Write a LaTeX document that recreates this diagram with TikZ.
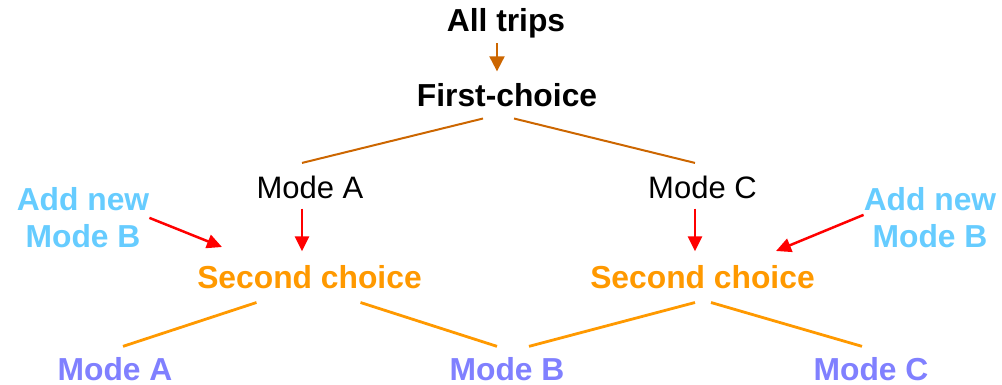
\documentclass[tikz,border=0pt]{standalone}
\usepackage{fontspec}
\setmainfont{Liberation Sans}
\usetikzlibrary{arrows.meta}
\definecolor{tripbrown}{HTML}{CC6600}
\definecolor{addblue}{HTML}{66CCFF}
\definecolor{choiceorange}{HTML}{FF9900}
\definecolor{modepurple}{HTML}{8080FF}
\begin{document}
\begin{tikzpicture}[x=1pt,y=-1pt,
	lbl/.style={inner sep=0,anchor=base,font=\fontsize{31}{37}\selectfont},
	bold/.style={lbl,font=\fontsize{31.8}{37}\selectfont\bfseries},
	redarrow/.style={draw=red,line width=2.5pt,-{Triangle[length=15pt,width=14pt]}},
	orangeline/.style={draw=choiceorange,line width=2.8pt},
	brownline/.style={draw=tripbrown,line width=2pt}]
	\useasboundingbox (0,0) rectangle (1002,385);
	% top of the tree
	\node[bold] (trips) at (506,32) {All trips};
	\node[bold] (first) at (507,107) {First-choice};
	\node[lbl] (modeA) at (310,199) {Mode A};
	\node[lbl] (modeC) at (702.5,199) {Mode C};
	\draw[brownline,-{Triangle[length=15pt,width=15pt]}] ([shift={(-9,4.5)}]trips.south) -- ([shift={(-10,-12.4)}]first.north);
	\draw[brownline] ([shift={(-24,11)}]first.south) -- ([shift={(-8,-13.4)}]modeA.north);
	\draw[brownline] ([shift={(7,11)}]first.south) -- ([shift={(-7.5,-13.4)}]modeC.north);
	% second choice
	\node[bold,text=choiceorange] (scL) at (309.5,288) {Second choice};
	\node[bold,text=choiceorange] (scR) at (702.5,288) {Second choice};
	\draw[redarrow] ([shift={(-8,9)}]modeA.south) -- ([shift={(-7.5,-13.4)}]scL.north);
	\draw[redarrow] ([shift={(-7.5,9)}]modeC.south) -- ([shift={(-7.5,-13.4)}]scR.north);
	% new mode B
	\node[bold,anchor=north,align=center,text=addblue] (addL) at (83,187.5) {Add new\\Mode B};
	\node[bold,anchor=north,align=center,text=addblue] (addR) at (930,187.5) {Add new\\Mode B};
	\coordinate (tipL) at (222,247);
	\coordinate (tipR) at (776,251);
	\draw[redarrow] (addL.east) -- (tipL);
	\draw[redarrow] ([yshift=3]addR.west) -- (tipR);
	% bottom
	\node[bold,text=modepurple] (botA) at (115,380) {Mode A};
	\node[bold,text=modepurple] (botB) at (507,380) {Mode B};
	\node[bold,text=modepurple] (botC) at (871,380) {Mode C};
	\draw[orangeline] ([shift={(-53,14)}]scL.south) -- ([shift={(8,-10.4)}]botA.north);
	\draw[orangeline] ([shift={(51,14)}]scL.south) -- ([shift={(-10,-10.4)}]botB.north);
	\draw[orangeline] ([shift={(-7.5,14)}]scR.south) -- ([shift={(22,-10.4)}]botB.north);
	\draw[orangeline] ([shift={(8.5,14)}]scR.south) -- ([shift={(-9,-10.4)}]botC.north);
\end{tikzpicture}
\end{document}
